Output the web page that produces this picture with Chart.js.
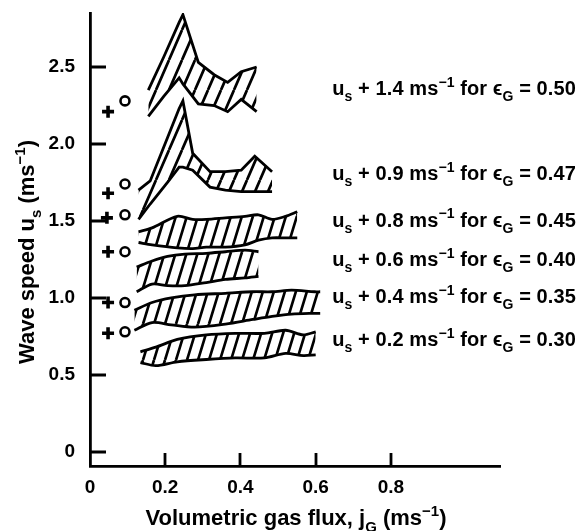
<!DOCTYPE html>
<html>
<head>
<meta charset="utf-8">
<script src="https://cdn.jsdelivr.net/npm/chart.js@4.4.1/dist/chart.umd.min.js"></script>
<style>
  html, body { margin: 0; padding: 0; background: #fff; }
  canvas { display: block; }
</style>
</head>
<body>
<canvas id="chart" width="581" height="531"></canvas>
<script>
// one hatched band per gas voidage, top to bottom
const voidage = ['0.50', '0.47', '0.45', '0.40', '0.35', '0.30'];
const shift = ['1.4', '0.9', '0.8', '0.6', '0.4', '0.2'];

// gas flux jG (m/s) along each band
const bandX = [
  [0.155, 0.196, 0.237, 0.247, 0.288, 0.33, 0.366, 0.402, 0.443],
  [0.129, 0.16, 0.206, 0.237, 0.247, 0.273, 0.319, 0.36, 0.402, 0.438, 0.484],
  [0.129, 0.165, 0.232, 0.273, 0.309, 0.36, 0.412, 0.448, 0.484, 0.52, 0.551],
  [0.124, 0.165, 0.206, 0.252, 0.309, 0.36, 0.412, 0.448],
  [0.118, 0.165, 0.216, 0.278, 0.36, 0.433, 0.484, 0.536, 0.597, 0.612],
  [0.134, 0.175, 0.232, 0.309, 0.386, 0.464, 0.52, 0.567, 0.6]
];
// shifted wave speed, upper edge of each band
const bandUpper = [
  [2.35, 2.565, 2.79, 2.84, 2.53, 2.45, 2.40, 2.47, 2.50],
  [1.70, 1.76, 2.04, 2.23, 2.28, 1.94, 1.82, 1.82, 1.83, 1.92, 1.82],
  [1.43, 1.455, 1.53, 1.51, 1.51, 1.52, 1.53, 1.54, 1.51, 1.53, 1.56],
  [1.20, 1.24, 1.27, 1.285, 1.29, 1.30, 1.31, 1.30],
  [0.92, 0.97, 1.00, 1.02, 1.03, 1.04, 1.04, 1.05, 1.04, 1.04],
  [0.65, 0.68, 0.73, 0.76, 0.77, 0.77, 0.79, 0.76, 0.78]
];
// lower edge of each band
const bandLower = [
  [2.18, 2.31, 2.43, 2.39, 2.26, 2.25, 2.21, 2.29, 2.21],
  [1.51, 1.61, 1.75, 1.85, 1.85, 1.83, 1.72, 1.70, 1.69, 1.69, 1.69],
  [1.36, 1.345, 1.325, 1.32, 1.33, 1.33, 1.345, 1.375, 1.39, 1.39, 1.39],
  [1.04, 1.09, 1.08, 1.08, 1.10, 1.12, 1.13, 1.14],
  [0.79, 0.84, 0.825, 0.81, 0.83, 0.86, 0.88, 0.895, 0.90, 0.90],
  [0.58, 0.56, 0.585, 0.60, 0.61, 0.61, 0.64, 0.625, 0.63]
];

// single points near jG = 0
const plusX = [0.048, 0.048, 0.045, 0.048, 0.048, 0.048];
const plusY = [2.21, 1.68, 1.52, 1.30, 0.97, 0.77];
const ringX = [0.093, 0.093, 0.093, 0.093, 0.093, 0.093];
const ringY = [2.28, 1.74, 1.54, 1.30, 0.97, 0.78];

const xTicks = [0, 0.2, 0.4, 0.6, 0.8];
const yTicks = [0, 0.5, 1.0, 1.5, 2.0, 2.5];

const FONT = '"Liberation Sans", Arial, sans-serif';
const INK = '#000';
const canvas = document.getElementById('chart');
const ctx0 = canvas.getContext('2d');

function hatch(w, h, lw) {
  const tile = document.createElement('canvas');
  tile.width = w;
  tile.height = h;
  const g = tile.getContext('2d');
  g.strokeStyle = INK;
  g.lineWidth = lw;
  g.beginPath();
  for (const dx of [-w, 0, w]) {
    g.moveTo(dx, h);
    g.lineTo(dx + w, 0);
  }
  g.stroke();
  return ctx0.createPattern(tile, 'repeat');
}
const fineHatch = hatch(11, 36, 2.7);
const wideHatch = hatch(13, 30, 2.7);

// text with sub/superscript runs: [text, 0 normal | 1 sub | 2 sup]
function drawRich(ctx, parts, x, y, size, align) {
  const fontFor = k => `bold ${k ? Math.round(size * 0.68) : size}px ${FONT}`;
  let w = 0;
  parts.forEach(([t, k]) => { ctx.font = fontFor(k); w += ctx.measureText(t).width; });
  let cx = align === 'center' ? x - w / 2 : x;
  ctx.textAlign = 'left';
  ctx.textBaseline = 'alphabetic';
  parts.forEach(([t, k]) => {
    ctx.font = fontFor(k);
    const dy = k === 1 ? size * 0.3 : k === 2 ? -size * 0.42 : 0;
    ctx.fillText(t, cx, y + dy);
    cx += ctx.measureText(t).width;
  });
}

const labelY = [2.364, 1.812, 1.507, 1.25, 1.013, 0.73];

const annotate = {
  id: 'annotate',
  afterDraw(chart) {
    const { ctx, chartArea: a, scales: { x, y } } = chart;
    ctx.save();
    // inward tick marks
    ctx.strokeStyle = INK;
    ctx.lineWidth = 2.8;
    ctx.beginPath();
    yTicks.forEach(v => {
      const py = Math.round(y.getPixelForValue(v));
      ctx.moveTo(a.left, py);
      ctx.lineTo(a.left + 16, py);
    });
    xTicks.slice(1).forEach(v => {
      const px = Math.round(x.getPixelForValue(v));
      ctx.moveTo(px, a.bottom);
      ctx.lineTo(px, a.bottom - 13);
    });
    ctx.stroke();

    ctx.fillStyle = INK;
    ctx.letterSpacing = '0.1px';
    voidage.forEach((e, i) => {
      const parts = [['u', 0], ['s', 1], [' + ' + shift[i] + ' ms', 0], ['\u22121', 2],
        [' for ', 0], ['\u03f5', 0], ['G', 1], [' = ' + e, 0]];
      drawRich(ctx, parts, x.getPixelForValue(0.644), y.getPixelForValue(labelY[i]) + 7, 20, 'left');
    });
    ctx.letterSpacing = '0px';

    drawRich(ctx, [['Volumetric gas flux, j', 0], ['G', 1], [' (ms', 0], ['\u22121', 2], [')', 0]],
      296, 525, 22, 'center');

    ctx.translate(34, 252);
    ctx.rotate(-Math.PI / 2);
    drawRich(ctx, [['Wave speed u', 0], ['s', 1], [' (ms', 0], ['\u22121', 2], [')', 0]],
      0, 0, 22, 'center');
    ctx.restore();
  }
};

const datasets = [];
voidage.forEach((e, i) => {
  const xs = bandX[i];
  const common = {
    borderColor: INK,
    borderWidth: 2.8,
    pointRadius: 0,
    tension: i < 2 ? 0 : 0.3
  };
  datasets.push(Object.assign({
    label: 'upper ' + e,
    data: xs.map((v, k) => ({ x: v, y: bandUpper[i][k] })),
    fill: '+1',
    backgroundColor: i < 2 ? wideHatch : fineHatch
  }, common));
  datasets.push(Object.assign({
    label: 'lower ' + e,
    data: xs.map((v, k) => ({ x: v, y: bandLower[i][k] })),
    fill: false
  }, common));
});
datasets.push({
  type: 'scatter',
  label: 'plus',
  data: plusX.map((v, k) => ({ x: v, y: plusY[k] })),
  pointStyle: 'cross',
  pointRadius: 6,
  borderWidth: 3.6,
  borderColor: INK
});
datasets.push({
  type: 'scatter',
  label: 'ring',
  data: ringX.map((v, k) => ({ x: v, y: ringY[k] })),
  pointStyle: 'circle',
  pointRadius: 4.5,
  borderWidth: 2.6,
  borderColor: INK,
  backgroundColor: '#fff'
});

const tickFont = { family: FONT, size: 19, weight: 'bold' };

new Chart(canvas, {
  type: 'line',
  data: { datasets },
  options: {
    responsive: false,
    animation: false,
    devicePixelRatio: 1,
    layout: { padding: { top: 13, right: 81, left: 0, bottom: 0 } },
    plugins: {
      legend: { display: false },
      tooltip: { enabled: false }
    },
    scales: {
      x: {
        type: 'linear',
        min: 0,
        max: 1.09,
        afterFit(s) { s.height = 65; s.paddingLeft = 0; s.paddingRight = 0; },
        afterBuildTicks(s) { s.ticks = xTicks.map(v => ({ value: v })); },
        grid: { drawOnChartArea: false, drawTicks: false },
        border: { color: INK, width: 2.8 },
        ticks: {
          padding: 10,
          color: INK,
          font: tickFont,
          callback: v => v === 0 ? '0' : v.toFixed(1)
        }
      },
      y: {
        type: 'linear',
        min: -0.092,
        max: 2.851,
        afterFit(s) { s.width = 90; s.paddingTop = 0; s.paddingBottom = 0; },
        afterBuildTicks(s) { s.ticks = yTicks.map(v => ({ value: v })); },
        grid: { drawOnChartArea: false, drawTicks: false },
        border: { color: INK, width: 2.8 },
        ticks: {
          padding: 15,
          color: INK,
          font: tickFont,
          callback: v => v === 0 ? '0' : v.toFixed(1)
        }
      }
    }
  },
  plugins: [annotate]
});
</script>
</body>
</html>
